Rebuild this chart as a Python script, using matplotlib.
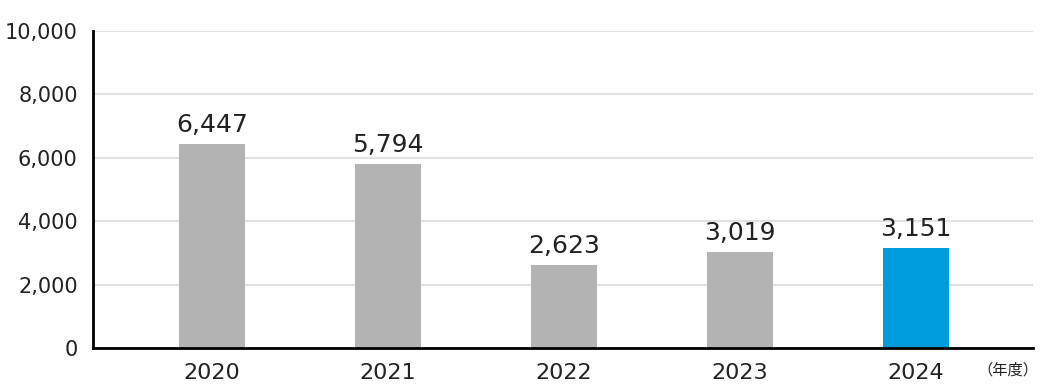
import matplotlib
matplotlib.use("Agg")
import matplotlib.pyplot as plt
from matplotlib.ticker import FuncFormatter

plt.rcParams['font.family'] = ['DejaVu Sans', 'Noto Sans CJK JP']

years = ['2020', '2021', '2022', '2023', '2024']
values = [6447, 5794, 2623, 3019, 3151]
colors = ['#b3b3b3', '#b3b3b3', '#b3b3b3', '#b3b3b3', '#009ddd']
yticks = [0, 2000, 4000, 6000, 8000, 10000]
unit_label = '（年度）'

fig = plt.figure(figsize=(10.4, 3.9), dpi=100)
ax = fig.add_axes([93/1040, 1-348/390, (1033-93)/1040, (348-31)/390])

x = list(range(len(years)))
ax.bar(x, values, width=0.375, color=colors, zorder=2)
ax.set_xlim(-0.676, 4.665)
ax.set_ylim(0, 10000)
ax.set_yticks(yticks)
ax.yaxis.set_major_formatter(FuncFormatter(lambda v, p: f"{int(v):,}"))
ax.set_xticks(x)
ax.set_xticklabels(years)
ax.grid(axis='y', color='#e3e3e3', linewidth=1.5, zorder=0)
ax.set_axisbelow(True)
for s in ['top', 'right']:
    ax.spines[s].set_visible(False)
ax.spines['left'].set_linewidth(2)
ax.spines['bottom'].set_linewidth(2)
ax.tick_params(axis='y', length=0, labelsize=15, colors='#222222', pad=11)
ax.tick_params(axis='x', length=0, labelsize=16, colors='#222222', pad=11)

for xi, v in zip(x, values):
    ax.annotate(f"{v:,}", (xi, v), xytext=(0, 5), textcoords='offset points',
                ha='center', va='bottom', fontsize=18, color='#222222')

fig.text(1038/1040, 1-370/390, unit_label, ha='right', va='center', fontsize=11,
         color='#222222', family=['Noto Sans CJK JP', 'DejaVu Sans'])

fig.savefig('out.png', dpi=100)
